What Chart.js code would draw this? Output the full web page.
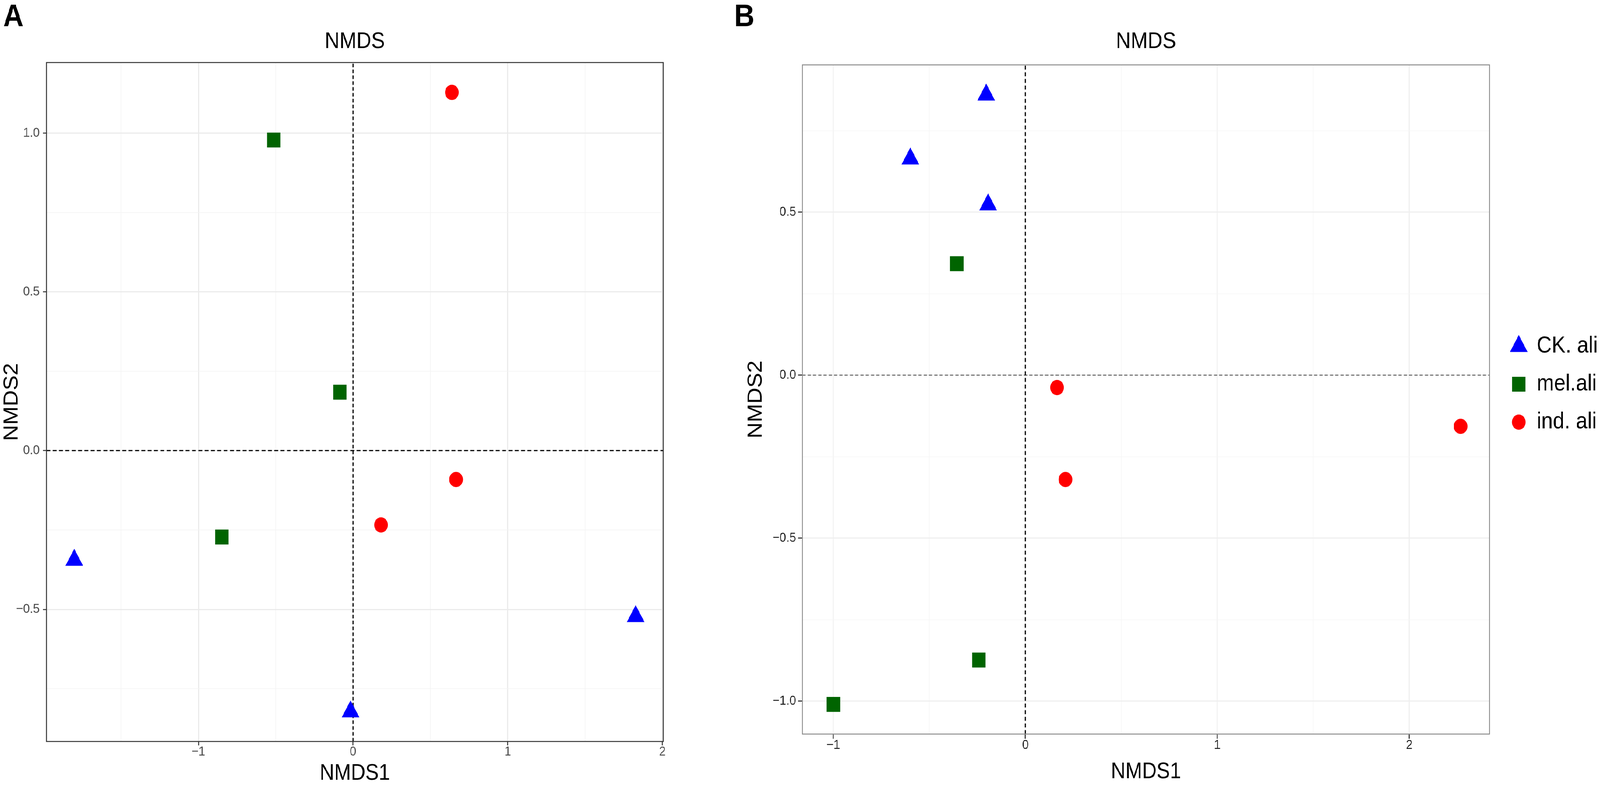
<!DOCTYPE html>
<html>
<head>
<meta charset="utf-8">
<title>NMDS</title>
<script src="https://cdn.jsdelivr.net/npm/chart.js@4.4.1/dist/chart.umd.min.js"></script>
<style>
  html, body { margin: 0; padding: 0; background: #fff; overflow: hidden; }
  #stage { position: absolute; left: 0; top: 0; width: 4550px; height: 2016px; transform-origin: 0 0; }
  canvas { position: absolute; top: 0; }
  #chartA { left: 0; }
  #chartB { left: 2080px; }
</style>
</head>
<body>
<div id="stage">
  <canvas id="chartA" width="2080" height="2016"></canvas>
  <canvas id="chartB" width="2470" height="2016"></canvas>
</div>
<script>
const groups = ["CK. ali", "mel.ali", "ind. ali"];

// panel A scores
const ckA_x = [-1.802, -0.016, 1.827];
const ckA_y = [-0.345, -0.822, -0.522];
const melA_x = [-0.512, -0.086, -0.848];
const melA_y = [0.978, 0.184, -0.272];
const indA_x = [0.639, 0.666, 0.181];
const indA_y = [1.128, -0.091, -0.234];

// panel B scores
const ckB_x = [-0.204, -0.599, -0.194];
const ckB_y = [0.860, 0.664, 0.523];
const melB_x = [-0.357, -0.242, -1.0];
const melB_y = [0.342, -0.874, -1.010];
const indB_x = [0.165, 0.209, 2.267];
const indB_y = [-0.038, -0.320, -0.157];

// axis limits, grid positions, labelled ticks
const xLimA = [-1.982, 2.005], yLimA = [-0.916, 1.222];
const xLimB = [-1.161, 2.418], yLimB = [-1.101, 0.952];
const xGridA = [-1.5, -1, -0.5, 0, 0.5, 1, 1.5, 2];
const yGridA = [-0.75, -0.5, -0.25, 0, 0.25, 0.5, 0.75, 1];
const xGridB = [-1, -0.5, 0, 0.5, 1, 1.5, 2];
const yGridB = [-1, -0.75, -0.5, -0.25, 0, 0.25, 0.5, 0.75];
const xLabels = [-1, 0, 1, 2];
const yLabelsA = [-0.5, 0, 0.5, 1];
const yLabelsB = [-1, -0.5, 0, 0.5];

const FONT = '"Liberation Sans", Arial, Helvetica, sans-serif';

// the figure is laid out at 4550x2016, fit it into whatever the window is
const stage = document.getElementById("stage");
stage.style.transform = "scale(" + (window.innerWidth / 4550) + "," + (window.innerHeight / 2016) + ")";

function pts(xs, ys) {
  return xs.map((x, i) => ({ x: x, y: ys[i] }));
}
function has(list, v) {
  return list.some(t => Math.abs(t - v) < 1e-6);
}
function fmt(v, digits) {
  return v.toFixed(digits).replace("-", "\u2212");
}

function drawMarker(ctx, style, r, x, y) {
  if (Chart.helpers && Chart.helpers.drawPoint) {
    Chart.helpers.drawPoint(ctx, { pointStyle: style, radius: r, rotation: 0, borderWidth: 0 }, x, y);
    return;
  }
  ctx.beginPath();
  if (style === "triangle") {
    ctx.moveTo(x, y - r);
    ctx.lineTo(x + r * Math.sin(Math.PI * 2 / 3), y + r / 2);
    ctx.lineTo(x - r * Math.sin(Math.PI * 2 / 3), y + r / 2);
    ctx.closePath();
  } else if (style === "rect") {
    const s = r * Math.SQRT1_2;
    ctx.rect(x - s, y - s, 2 * s, 2 * s);
  } else {
    ctx.arc(x, y, r, 0, Math.PI * 2);
  }
  ctx.fill();
}

// frame, panel letter and (for B) the legend
const panelDecor = {
  id: "panelDecor",
  afterDraw(chart, args, opts) {
    const ctx = chart.ctx;
    const a = chart.chartArea;
    ctx.save();
    ctx.strokeStyle = opts.borderColor;
    ctx.lineWidth = opts.borderWidth;
    ctx.strokeRect(a.left, a.top, a.right - a.left, a.bottom - a.top);

    ctx.fillStyle = "#000";
    ctx.font = "bold 80px " + FONT;
    ctx.textAlign = "left";
    ctx.textBaseline = "alphabetic";
    ctx.fillText(opts.label, opts.labelX, 67);

    if (opts.legend) {
      const sets = chart.data.datasets.filter(d => d.label);
      ctx.font = "59px " + FONT;
      ctx.textBaseline = "middle";
      sets.forEach((d, i) => {
        const y = a.top + 720 + i * 97;
        ctx.fillStyle = d.pointBackgroundColor;
        drawMarker(ctx, d.pointStyle, d.pointRadius, a.right + 83, y);
        ctx.fillStyle = "#000";
        ctx.fillText(d.label, a.right + 134, y);
      });
    }
    ctx.restore();
  }
};

function groupSets(ck, mel, ind) {
  return [
    { label: groups[0], data: ck, pointStyle: "triangle", pointRadius: 29,
      pointBackgroundColor: "#0000FF", pointBorderWidth: 0, order: 1 },
    { label: groups[1], data: mel, pointStyle: "rect", pointRadius: 27,
      pointBackgroundColor: "#006400", pointBorderWidth: 0, order: 1 },
    { label: groups[2], data: ind, pointStyle: "circle", pointRadius: 19.5,
      pointBackgroundColor: "#FF0000", pointBorderWidth: 0, order: 1 }
  ];
}

function zeroLine(data, color, width, dash) {
  return { data: data, showLine: true, pointRadius: 0, borderColor: color,
           borderWidth: width, borderDash: dash, order: 2 };
}

function axis(lim, grid, labels, digits, o) {
  const major = c => c.tick && has(labels, c.tick.value);
  return {
    type: "linear",
    min: lim[0],
    max: lim[1],
    afterBuildTicks: s => { s.ticks = grid.map(v => ({ value: v })); },
    afterFit: s => { if (o.height) s.height = o.height; else s.width = o.width; },
    ticks: {
      autoSkip: false,
      maxRotation: 0,
      padding: o.tickPad,
      color: o.tickText,
      font: { family: FONT, size: 34, lineHeight: 1 },
      callback: v => has(labels, v) ? fmt(v, digits) : ""
    },
    grid: {
      color: c => major(c) ? o.majorGrid : o.minorGrid,
      lineWidth: c => major(c) ? 3 : 1.5,
      tickLength: o.tickLen,
      tickWidth: 2.5,
      tickColor: c => major(c) ? o.tickMark : "rgba(0,0,0,0)"
    },
    border: { display: false },
    title: {
      display: true,
      text: o.title,
      color: "#000",
      font: { family: FONT, size: 57 },
      padding: o.titlePad
    }
  };
}

function build(id, datasets, scales, titleBottom, padRight, decor) {
  return new Chart(document.getElementById(id), {
    type: "scatter",
    data: { datasets: datasets },
    options: {
      responsive: false,
      devicePixelRatio: 1,
      animation: false,
      events: [],
      layout: { padding: { left: 0, right: padRight, top: 0, bottom: 0 } },
      scales: scales,
      plugins: {
        legend: { display: false },
        tooltip: { enabled: false },
        title: {
          display: true,
          text: "NMDS",
          fullSize: false,
          color: "#000",
          font: { family: FONT, size: 58, weight: "normal", lineHeight: 1.2 },
          padding: { top: 72, bottom: titleBottom }
        },
        panelDecor: decor
      }
    },
    plugins: [panelDecor]
  });
}

// Panel A
const styleA = { tickText: "#4D4D4D", tickMark: "#333333", majorGrid: "#EBEBEB", minorGrid: "#F3F3F3", tickLen: 10 };
build("chartA",
  groupSets(pts(ckA_x, ckA_y), pts(melA_x, melA_y), pts(indA_x, indA_y)).concat([
    zeroLine([{ x: 0, y: yLimA[0] }, { x: 0, y: yLimA[1] }], "#000", 3, [9, 6]),
    zeroLine([{ x: xLimA[0], y: 0 }, { x: xLimA[1], y: 0 }], "#000", 3, [11, 7])
  ]),
  {
    x: axis(xLimA, xGridA, xLabels, 0, Object.assign({}, styleA, { height: 119, tickPad: 0, title: "NMDS1", titlePad: { top: 0, bottom: 3 } })),
    y: axis(yLimA, yGridA, yLabelsA, 1, Object.assign({}, styleA, { width: 132, tickPad: 9, title: "NMDS2", titlePad: { top: 0, bottom: 0 } }))
  },
  18.4, 194,
  { label: "A", labelX: 9, borderColor: "#333333", borderWidth: 2.5, legend: false }
);

// Panel B
const styleB = { tickText: "#1A1A1A", tickMark: "#1A1A1A", majorGrid: "#EFEFEF", minorGrid: "#F6F6F6", tickLen: 12 };
build("chartB",
  groupSets(pts(ckB_x, ckB_y), pts(melB_x, melB_y), pts(indB_x, indB_y)).concat([
    zeroLine([{ x: 0, y: yLimB[0] }, { x: 0, y: yLimB[1] }], "#000", 3, [10, 7]),
    zeroLine([{ x: xLimB[0], y: 0 }, { x: xLimB[1], y: 0 }], "#444", 2, [9, 6])
  ]),
  {
    x: axis(xLimB, xGridB, xLabels, 0, Object.assign({}, styleB, { height: 138, tickPad: 0, title: "NMDS1", titlePad: { top: 0, bottom: 7 } })),
    y: axis(yLimB, yGridB, yLabelsB, 1, Object.assign({}, styleB, { width: 202, tickPad: 6, title: "NMDS2", titlePad: { top: 36, bottom: 0 } }))
  },
  24.4, 314,
  { label: "B", labelX: 8, borderColor: "#8C8C8C", borderWidth: 2.5, legend: true }
);
</script>
</body>
</html>
